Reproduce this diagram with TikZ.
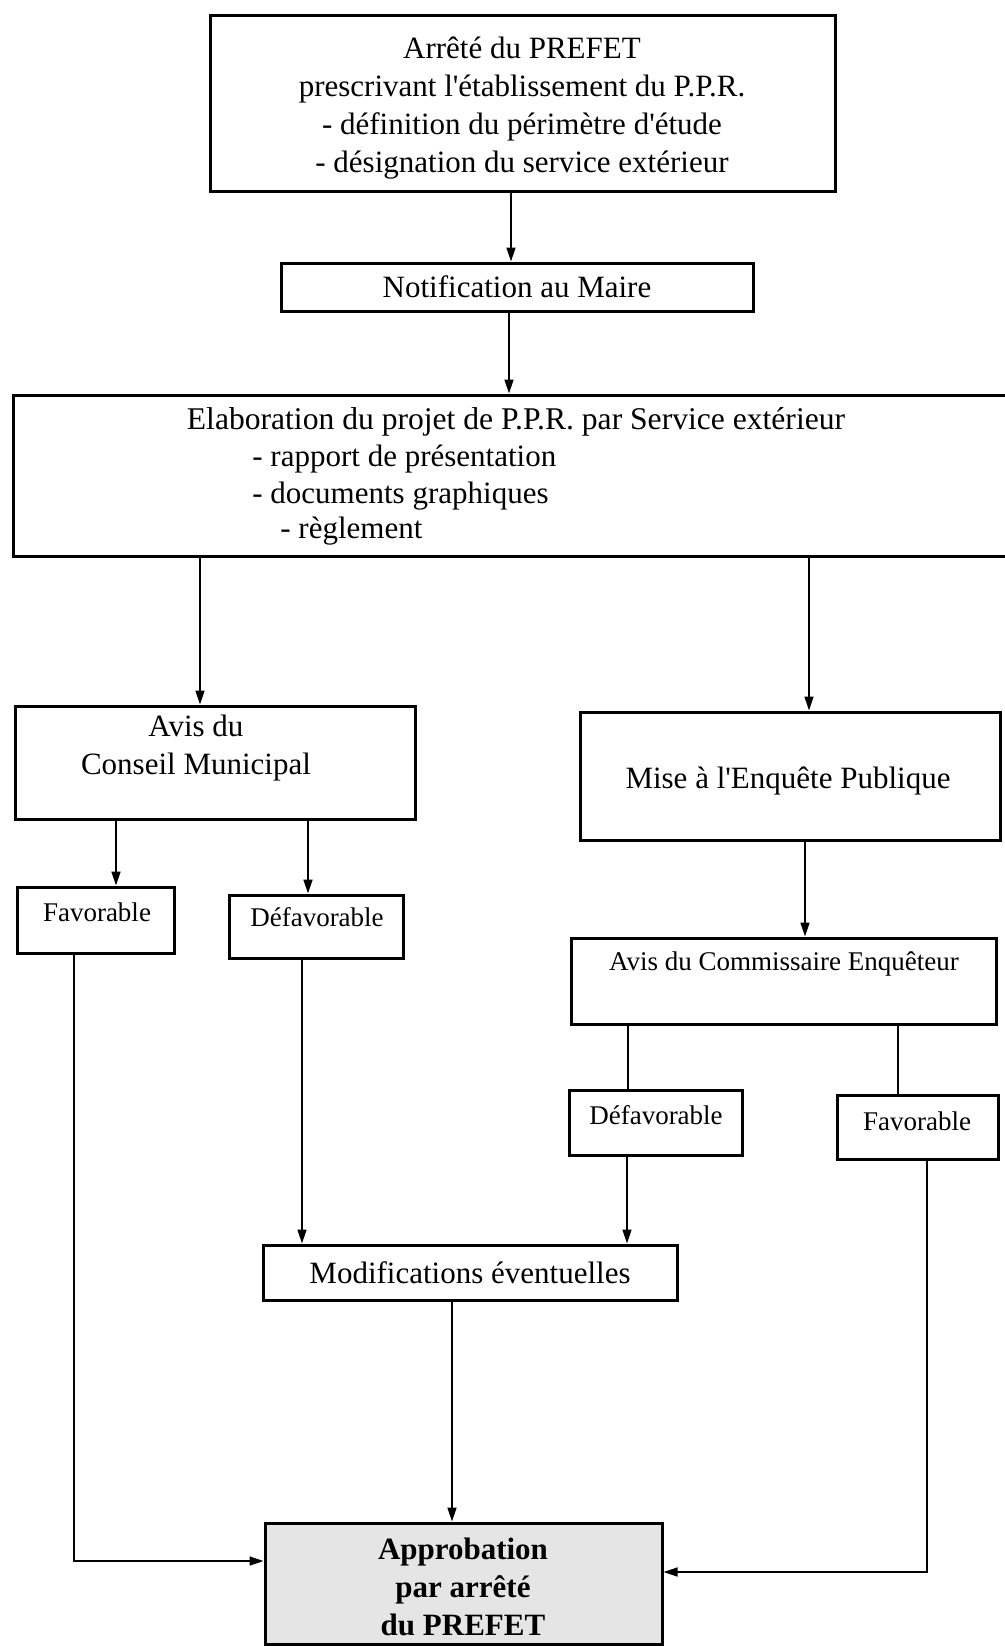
\documentclass[tikz,border=0pt]{standalone}
\usepackage{fontspec}
\setmainfont{Liberation Serif}
\usetikzlibrary{arrows.meta}
\newcommand{\sq}{\textquotesingle}
\begin{document}
\begin{tikzpicture}[x=0.5pt,y=-0.5pt,
  box/.style={draw, line width=1.5pt, inner sep=0pt},
  big/.style={font=\fontsize{15.5}{19}\selectfont, align=center},
  small/.style={font=\fontsize{13.5}{16}\selectfont},
  txt/.style={inner sep=0pt},
  arr/.style={line width=0.7pt, -{Triangle[length=7pt,width=4.5pt]}},
  ln/.style={line width=0.7pt}]
\useasboundingbox (0,0) rectangle (1005,1646);
\clip (0,0) rectangle (1005,1646);

% boxes
\node[box, minimum width=312.5pt, minimum height=88pt] (top) at (522.5,103) {};
\node[box, big, minimum width=236pt, minimum height=24pt] (notif) at (517,287) {Notification au Maire};
\node[box, minimum width=498.5pt, minimum height=80.5pt] (elab) at (511.5,475.5) {};
\node[box, minimum width=200pt, minimum height=56.5pt] (cm) at (215,762.5) {};
\node[box, minimum width=210pt, minimum height=64pt] (mise) at (790,776) {};
\node[box, minimum width=78.5pt, minimum height=33pt] (fav1) at (95.5,920) {};
\node[box, minimum width=87pt, minimum height=31.5pt] (def1) at (316,926.5) {};
\node[box, minimum width=212.5pt, minimum height=43pt] (com) at (783.5,981) {};
\node[box, minimum width=86.5pt, minimum height=32.5pt] (def2) at (655.5,1122.5) {};
\node[box, minimum width=80.5pt, minimum height=32pt] (fav2) at (917.5,1127) {};
\node[box, big, minimum width=207pt, minimum height=27.5pt] (modif) at (470,1272.5) {Modifications éventuelles};
\node[box, fill=black!10, minimum width=198.5pt, minimum height=60.5pt] (approb) at (463.5,1583.5) {};

% texts
\node[txt, big] (top-t) at (522,108)
  {Arrêté du PREFET\\prescrivant l\sq établissement du P.P.R.\\- définition du périmètre d\sq étude\\- désignation du service extérieur};
\node[txt, big, font=\fontsize{15.8}{19}\selectfont, anchor=mid] (elab-t1) at (516,425) {Elaboration du projet de P.P.R. par Service extérieur};
\node[txt, big, anchor=mid west] (elab-t2) at (252,462) {- rapport de présentation};
\node[txt, big, anchor=mid west] (elab-t3) at (252,499) {- documents graphiques};
\node[txt, big, anchor=mid west] (elab-t4) at (280,534) {- règlement};
\node[txt, big] (cm-t) at (196,748) {Avis du\\Conseil Municipal};
\node[txt, big] (mise-t) at (788,781) {Mise à l\sq Enquête Publique};
\node[txt, small] (fav1-t) at (97,912) {Favorable};
\node[txt, small] (def1-t) at (317,917) {Défavorable};
\node[txt, small] (com-t) at (784,964) {Avis du Commissaire Enquêteur};
\node[txt, small] (def2-t) at (656,1115) {Défavorable};
\node[txt, small] (fav2-t) at (917,1121) {Favorable};
\node[txt, big, font=\fontsize{15.5}{19}\selectfont\bfseries] (approb-t) at (463,1587)
  {Approbation\\par arrêté\\du PREFET};

% connector x positions
\coordinate (x1) at (511,0);
\coordinate (x2) at (509,0);
\coordinate (x3) at (200,0);
\coordinate (x4) at (809,0);
\coordinate (x5) at (116,0);
\coordinate (x6) at (308,0);
\coordinate (x7) at (805,0);
\coordinate (x8) at (628,0);
\coordinate (x9) at (898,0);
\coordinate (x10) at (302,0);
\coordinate (x11) at (627,0);
\coordinate (x12) at (452,0);
\coordinate (l1) at (74,1561);
\coordinate (r1) at (927,1572);

\draw[arr] (top.south -| x1) -- (notif.north -| x1);
\draw[arr] (notif.south -| x2) -- (elab.north -| x2);
\draw[arr] (elab.south -| x3) -- (cm.north -| x3);
\draw[arr] (elab.south -| x4) -- (mise.north -| x4);
\draw[arr] (cm.south -| x5) -- (fav1.north -| x5);
\draw[arr] (cm.south -| x6) -- (def1.north -| x6);
\draw[arr] (mise.south -| x7) -- (com.north -| x7);
\draw[ln] (com.south -| x8) -- (def2.north -| x8);
\draw[ln] (com.south -| x9) -- (fav2.north -| x9);
\draw[arr] (def1.south -| x10) -- (modif.north -| x10);
\draw[arr] (def2.south -| x11) -- (modif.north -| x11);
\draw[arr] (modif.south -| x12) -- (approb.north -| x12);
\draw[arr] (fav1.south -| l1) -- (l1) -- (approb.west |- l1);
\draw[arr] (fav2.south -| r1) -- (r1) -- (approb.east |- r1);
\end{tikzpicture}
\end{document}
